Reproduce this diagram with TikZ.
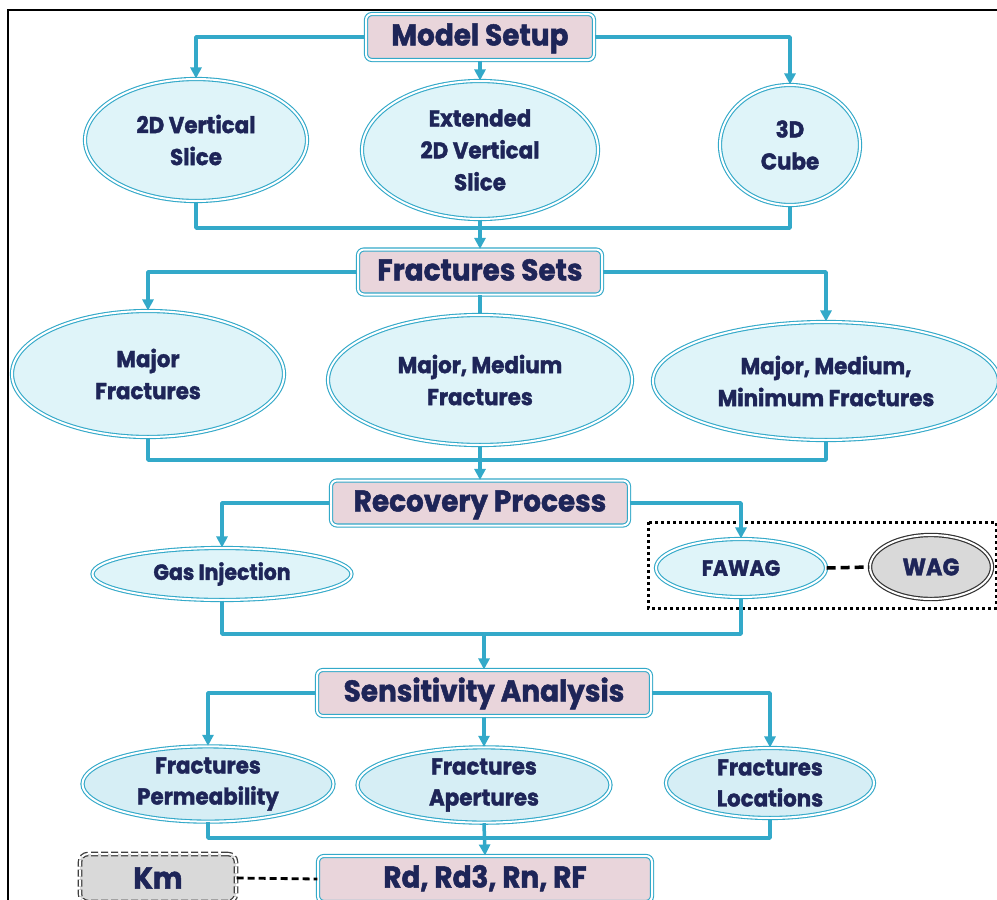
\documentclass[tikz,border=0pt]{standalone}
\usepackage{fontspec}
\setmainfont{Poppins}[FakeStretch=0.93, BoldFeatures={FakeBold=1.6}]
\usetikzlibrary{arrows.meta,shapes.geometric}
\definecolor{cy}{HTML}{33A9C9}
\definecolor{efill}{HTML}{DFF4F9}
\definecolor{efill2}{HTML}{D6EEF5}
\definecolor{pfill}{HTML}{E9D5DB}
\definecolor{txt}{HTML}{1E2558}
\definecolor{gfill}{HTML}{D9D9D9}
\tikzset{
  x=1pt, y=-1pt,
  conn/.style={draw=cy, line width=3.5pt, line join=round},
  arr/.style={conn, -{Triangle[length=11pt,width=11pt]}},
  mbox/.style={draw=cy, line width=1.1pt, double=white, double distance=2pt, fill=pfill,
     rounded corners=6pt, inner sep=0pt, text=txt, text height=22pt, text depth=5pt,
     font=\fontsize{30}{32}\selectfont\bfseries},
  ell/.style={ellipse, draw=cy, line width=1.1pt, double=white, double distance=2pt, fill=efill,
     inner sep=0pt, text=txt, align=center, font=\fontsize{23}{32}\selectfont\bfseries},
  gell/.style={ellipse, draw=black!80, line width=1.2pt, double=white, double distance=2pt, fill=gfill,
     inner sep=0pt, text=txt, font=\fontsize{24}{28}\selectfont\bfseries},
  kbox/.style={draw=black!75, line width=1.3pt, double=white, double distance=2pt, fill=gfill,
     dash pattern=on 7pt off 3pt, rounded corners=8pt, inner sep=0pt, text=txt,
     font=\fontsize{30}{32}\selectfont\bfseries},
  dline/.style={draw=black, line width=3.5pt, dash pattern=on 9pt off 5pt},
}
\begin{document}
\begin{tikzpicture}
\useasboundingbox (0,0) rectangle (997,900);
\fill[white] (0,0) rectangle (997,900);
\draw[line width=2.5pt] (8,902) -- (8,10) -- (999,10);

% row 0
\node[mbox, minimum width=228pt, minimum height=46pt] (ms) at (480,37) {Model Setup};
\node[ell, minimum width=222pt, minimum height=122pt] (s2d) at (196,140) {2D Vertical\\Slice};
\node[ell, minimum width=236pt, minimum height=138pt] (ext) at (480,150) {Extended\\2D Vertical\\Slice};
\node[ell, minimum width=140pt, minimum height=120pt] (cube) at (790,145) {3D\\Cube};
\coordinate (j1) at (480,228);

\node[mbox, minimum width=244pt, minimum height=45pt] (fs) at (480,272) {Fractures Sets};
\node[ell, minimum width=272pt, minimum height=126pt] (maj) at (148,374) {Major\\Fractures};
\node[ell, minimum width=304pt, minimum height=130pt] (med) at (480,380) {Major, Medium\\Fractures};
\node[ell, minimum width=346pt, minimum height=118pt] (mmm) at (826,381) {Major, Medium,\\Minimum Fractures};
\coordinate (j2) at (480,460);

\node[mbox, minimum width=298pt, minimum height=45pt] (rp) at (480,503) {Recovery Process};
\node[ell, minimum width=259pt, minimum height=52pt, font=\fontsize{22}{24}\selectfont\bfseries] (gas) at (222,574) {Gas Injection};
\node[ell, minimum width=170pt, minimum height=58pt, font=\fontsize{22}{24}\selectfont\bfseries] (fawag) at (741,568) {FAWAG};
\node[gell, minimum width=122pt, minimum height=64pt] (wag) at (931,567) {WAG};
\draw[line width=3pt, dash pattern=on 3pt off 3pt] (648,522) rectangle (996,608);
\coordinate (j3) at (484,634);

\node[mbox, minimum width=334pt, minimum height=46pt] (sa) at (484,693) {Sensitivity Analysis};
\node[ell, fill=efill2, minimum width=251pt, minimum height=68pt, font=\fontsize{23}{31}\selectfont\bfseries] (perm) at (208,784) {Fractures\\Permeability};
\node[ell, fill=efill2, minimum width=253pt, minimum height=70pt, font=\fontsize{23}{31}\selectfont\bfseries] (apt) at (484,785) {Fractures\\Apertures};
\node[ell, fill=efill2, minimum width=208pt, minimum height=70pt, font=\fontsize{23}{31}\selectfont\bfseries] (loc) at (770,783) {Fractures\\Locations};
\coordinate (j4) at (484,838);

\node[mbox, minimum width=334pt, minimum height=46pt] (rd) at (485,879) {Rd, Rd3, Rn, RF};
\node[kbox, minimum width=156pt, minimum height=48pt] (km) at (158,878) {Km};

% connectors
\draw[arr] (ms.west) -| (s2d.north);
\draw[arr] (ms.south) -- (ext.north);
\draw[arr] (ms.east) -| (cube.north);
\draw[conn] (s2d.south) |- (j1) -| (cube.south);
\draw[arr] (ext.south) -- (fs.north);

\draw[arr] (fs.west) -| (maj.north);
\draw[conn] (fs.south) -- (med.north);
\draw[arr] (fs.east) -| (mmm.north);
\draw[conn] (maj.south) |- (j2) -| (mmm.south);
\draw[arr] (med.south) -- (rp.north);

\draw[arr] (rp.west) -| (gas.north);
\draw[arr] (rp.east) -| (fawag.north);
\draw[conn] (gas.south) |- (j3) -| (fawag.south);
\draw[arr] (j3) -- (sa.north);
\draw[dline] (fawag.east) -- (wag.west);

\draw[arr] (sa.west) -| (perm.north);
\draw[arr] (sa.south) -- (apt.north);
\draw[arr] (sa.east) -| (loc.north);
\draw[conn] (perm.south) |- (j4) -| (loc.south);
\draw[arr] (apt.south) -- (rd.north);
\draw[dline, line width=2.8pt, dash pattern=on 7pt off 4pt] (km.east) -- (rd.west);
\end{tikzpicture}
\end{document}
